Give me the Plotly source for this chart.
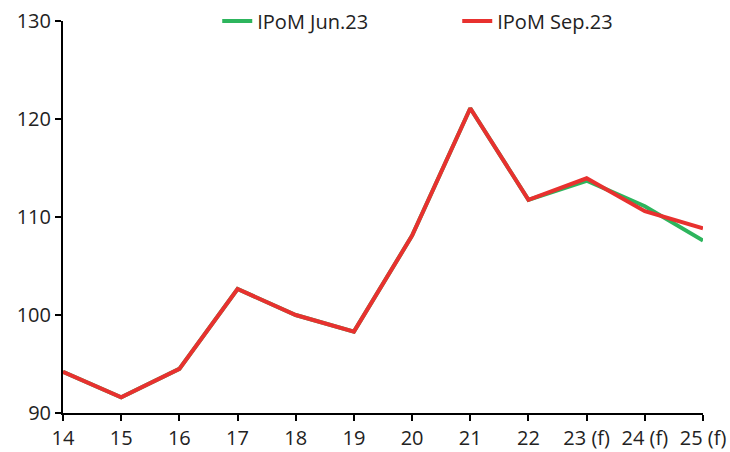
import plotly.graph_objects as go

# Year labels on the horizontal axis
years = ["14", "15", "16", "17", "18", "19", "20", "21", "22", "23 (f)", "24 (f)", "25 (f)"]

# Index values for each report
ipom_jun23 = [94.2, 91.6, 94.5, 102.65, 100.0, 98.3, 108.1, 121.1, 111.75, 113.7, 111.1, 107.6]
ipom_sep23 = [94.2, 91.6, 94.5, 102.65, 100.0, 98.3, 108.1, 121.1, 111.75, 113.95, 110.6, 108.85]

y_ticks = [90, 100, 110, 120, 130]

x_pos = list(range(len(years)))

fig = go.Figure()
fig.add_trace(go.Scatter(
    x=x_pos, y=ipom_jun23, mode="lines", name="IPoM Jun.23",
    line=dict(color="#2DB55D", width=4),
))
fig.add_trace(go.Scatter(
    x=x_pos, y=ipom_sep23, mode="lines", name="IPoM Sep.23",
    line=dict(color="#E8312F", width=4),
))

font_family = "Open Sans, Noto Sans, sans-serif"

fig.update_layout(
    width=730, height=452,
    margin=dict(l=63, r=27, t=21, b=39, autoexpand=False),
    paper_bgcolor="white", plot_bgcolor="white",
    font=dict(family=font_family, size=20, color="#222222"),
    showlegend=True,
    legend=dict(
        orientation="h", x=0.241, xanchor="left", y=1.0, yanchor="middle",
        font=dict(size=20), bgcolor="rgba(0,0,0,0)",
        entrywidthmode="pixels", entrywidth=195,
        tracegroupgap=0,
    ),
    xaxis=dict(
        range=[0, len(years) - 1],
        tickmode="array", tickvals=x_pos, ticktext=years,
        showgrid=False, zeroline=False,
        showline=True, linecolor="black", linewidth=2,
        ticks="outside", ticklen=6, tickwidth=2, tickcolor="black",
        tickfont=dict(size=20),
    ),
    yaxis=dict(
        range=[90, 130],
        tickmode="array", tickvals=y_ticks,
        showgrid=False, zeroline=False,
        showline=True, linecolor="black", linewidth=2,
        ticks="outside", ticklen=6, tickwidth=2, tickcolor="black",
        tickfont=dict(size=20),
    ),
)

fig.write_html("out.html")
